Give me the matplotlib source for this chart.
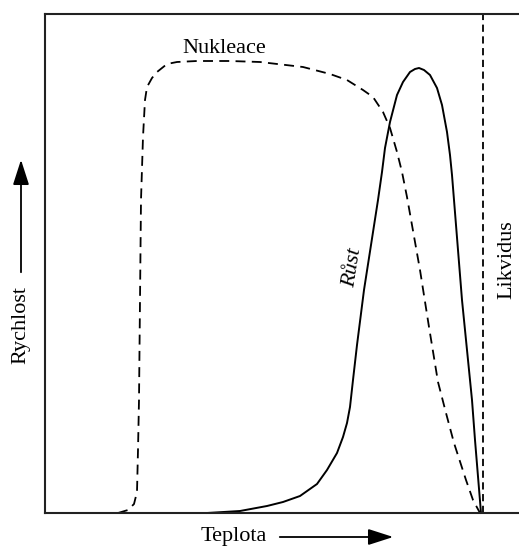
import matplotlib
matplotlib.use("Agg")
import matplotlib.pyplot as plt
from matplotlib.patches import FancyArrowPatch

plt.rcParams['font.family'] = ['Liberation Serif', 'DejaVu Serif']

# teplota a rychlost nukleace (relativni jednotky)
nuk_T = [73, 83, 89, 92, 93, 94, 95, 96, 98, 100, 102, 107, 112, 122, 132, 152,
         185, 215, 258, 285, 302, 318, 328, 338, 345, 352, 357, 362, 375, 384,
         393, 401, 409, 421, 428, 435]
nuk_R = [0, 3, 9, 21, 63, 113, 213, 313, 376, 413, 426, 435, 441, 449, 451, 452,
         452, 451, 446, 439, 433, 423, 416, 401, 385, 361, 341, 316, 243, 186,
         131, 100, 70, 33, 13, 0]

# rychlost rustu
rust_T = [162, 195, 222, 238, 255, 272, 282, 292, 298, 302, 305, 308, 312, 319,
          326, 333, 337, 340, 345, 352, 358, 365, 370, 374, 379, 385, 392, 397,
          402, 405, 407, 409, 417, 427, 430, 436]
rust_R = [0, 2, 7, 11, 17, 29, 43, 60, 76, 90, 106, 133, 168, 223,
          268, 313, 341, 365, 391, 418, 431, 441, 444, 445, 443, 438, 425, 408,
          381, 358, 338, 313, 213, 113, 73, 0]

likvidus_T = 438

fig = plt.figure(figsize=(5.19, 5.48), dpi=100)
ax = fig.add_axes([45/519, 35/548, 474/519, 499/548])
ax.set_xlim(0, 474)
ax.set_ylim(0, 499)
ax.set_xticks([])
ax.set_yticks([])
ax.spines['right'].set_visible(False)
for s in ['left', 'top', 'bottom']:
    ax.spines[s].set_linewidth(1.5)
    ax.spines[s].set_color('#222222')

ax.plot(nuk_T, nuk_R, color='black', lw=1.3, dashes=(5.5, 3.5), clip_on=False)
ax.plot(rust_T, rust_R, color='black', lw=1.4, clip_on=False)
ax.axvline(likvidus_T, color='black', lw=1.3, dashes=(4, 2.5))

ax.text(179, 465, 'Nukleace', fontsize=16, ha='center', va='center')
ax.text(308, 245, 'Růst', fontsize=16, style='italic', rotation=81,
        ha='center', va='center')
ax.text(462, 253, 'Likvidus', fontsize=16, rotation=90, ha='center', va='center')

# popisky os se sipkami
fig.text(21/519, 1 - 325/548, 'Rychlost', fontsize=16, rotation=90,
         ha='center', va='center')
fig.text(234/519, 1 - 537/548, 'Teplota', fontsize=16, ha='center', va='center')
fig.add_artist(FancyArrowPatch(
    (21/519, 1 - 275/548), (21/519, 1 - 157/548), transform=fig.transFigure,
    arrowstyle='-|>,head_length=1.4,head_width=0.45', mutation_scale=11,
    color='black', lw=1.3))
fig.add_artist(FancyArrowPatch(
    (277/519, 1 - 537/548), (396/519, 1 - 537/548), transform=fig.transFigure,
    arrowstyle='-|>,head_length=1.4,head_width=0.45', mutation_scale=11,
    color='black', lw=1.3))

fig.savefig('out.png', dpi=100)
